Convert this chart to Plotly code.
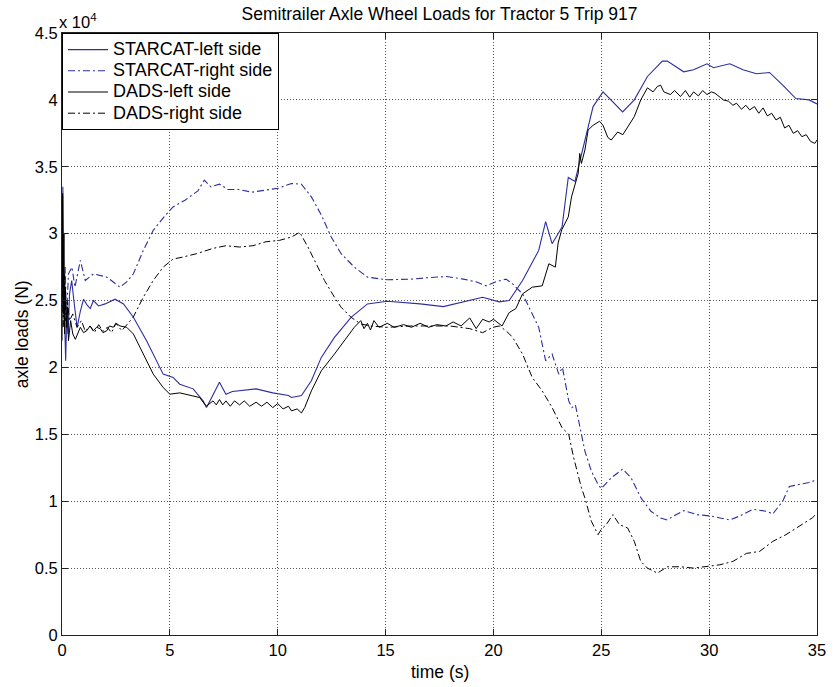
import plotly.graph_objects as go

# ---- data (loads in units of 1e4 N) ----
t_starcat_left = [0, 0.04, 0.08, 0.12, 0.17, 0.22, 0.28, 0.35, 0.45, 0.55, 0.7, 0.85, 1.0, 1.15, 1.31,
                  1.46, 1.69, 2.0, 2.46, 2.85, 3.31, 3.92, 4.69, 5.15, 5.46, 6.08, 6.54, 6.7, 7.0, 7.3,
                  7.6, 7.9, 9.0, 9.77, 10.5, 10.64, 11.1, 11.56, 12.02, 12.63, 13.4, 14.16, 15.08, 16.6,
                  17.68, 18.6, 19.5, 20.27, 20.73, 21.35, 22.1, 22.42, 22.72, 23.18, 23.47, 23.78, 24.24,
                  24.62, 25.08, 25.46, 25.99, 26.53, 27.14, 27.83, 28.06, 28.82, 29.28, 29.9, 30.2, 30.96,
                  31.57, 32.19, 32.8, 33.41, 34.02, 34.63, 35.0]
v_starcat_left = [2.45, 3.35, 2.6, 2.35, 2.05, 2.4, 2.25, 2.55, 2.65, 2.5, 2.3, 2.42, 2.51, 2.47, 2.44,
                  2.5, 2.46, 2.475, 2.51, 2.475, 2.375, 2.2, 1.95, 1.925, 1.875, 1.84, 1.75, 1.70, 1.80, 1.89,
                  1.80, 1.82, 1.84, 1.81, 1.79, 1.775, 1.79, 1.90, 2.075, 2.225, 2.375, 2.475, 2.495, 2.475,
                  2.455, 2.49, 2.525, 2.49, 2.5, 2.65, 2.875, 3.09, 2.925, 3.05, 3.42, 3.39, 3.70,
                  3.95, 4.06, 4.0, 3.91, 4.0, 4.175, 4.29, 4.29, 4.21, 4.225, 4.27, 4.24, 4.27,
                  4.225, 4.195, 4.205, 4.11, 4.01, 4.0, 3.97]

t_starcat_right = [0, 0.05, 0.1, 0.15, 0.2, 0.3, 0.46, 0.6, 0.85, 1.08, 1.46, 2.08, 2.69, 3.0, 3.31, 3.77,
                   4.23, 4.7, 5.15, 5.7, 6.3, 6.6, 6.9, 7.3, 7.7, 8.2, 8.8, 9.3, 9.8, 10.03, 10.64, 11.1,
                   11.56, 12.02, 12.48, 12.94, 13.55, 14.16, 15.08, 16.15, 16.9, 17.83, 18.6, 19.2, 19.66,
                   20.12, 20.58, 20.89, 21.35, 21.65, 22.1, 22.42, 22.57, 22.72, 23.03, 23.2, 23.49, 23.64,
                   23.8, 24.08, 24.24, 24.54, 24.85, 25.0, 25.46, 25.99, 26.38, 26.84, 27.3, 27.75, 28.06,
                   28.36, 28.82, 29.43, 30.05, 30.5, 30.96, 31.42, 32.03, 32.65, 32.95, 33.41, 33.72,
                   34.17, 34.63, 35.0]
v_starcat_right = [2.6, 2.9, 2.45, 2.75, 2.35, 2.7, 2.75, 2.6, 2.8, 2.65, 2.7, 2.675, 2.6, 2.64, 2.7, 2.875,
                   3.025, 3.12, 3.2, 3.25, 3.32, 3.4, 3.35, 3.37, 3.33, 3.33, 3.31, 3.32, 3.33, 3.34, 3.375, 3.37,
                   3.275, 3.14, 2.975, 2.85, 2.75, 2.675, 2.655, 2.66, 2.67, 2.68, 2.66, 2.64, 2.61,
                   2.64, 2.66, 2.625, 2.55, 2.45, 2.3, 2.05, 2.075, 2.1, 1.95, 2.0, 1.75, 1.70,
                   1.72, 1.5, 1.375, 1.225, 1.125, 1.095, 1.175, 1.24, 1.175, 1.025, 0.925, 0.875, 0.86,
                   0.89, 0.93, 0.90, 0.89, 0.875, 0.86, 0.89, 0.94, 0.925, 0.905, 1.0, 1.11,
                   1.125, 1.14, 1.16]

t_dads_left = [0, 0.03, 0.06, 0.09, 0.12, 0.16, 0.2, 0.25, 0.3, 0.4, 0.5, 0.62, 0.85, 1.0, 1.15, 1.3, 1.46,
               1.6, 1.77, 1.9, 2.08, 2.2, 2.38, 2.5, 2.69, 3.0, 3.31, 3.77, 4.23, 4.69, 5.0, 5.46, 5.92,
               6.38, 6.69, 7.0, 7.15, 7.3, 7.45, 7.6, 7.8, 8.0, 8.23, 8.45, 8.7, 9.0, 9.25, 9.5, 9.77,
               10.0, 10.25, 10.5, 10.64, 10.9, 11.1, 11.25, 11.56, 12.02, 12.63, 13.1, 13.55, 13.85, 14.0,
               14.16, 14.3, 14.46, 14.7, 15.08, 15.4, 15.84, 16.2, 16.6, 17.0, 17.37, 17.8, 18.13, 18.5,
               18.9, 19.2, 19.5, 19.8, 20.0, 20.27, 20.4, 20.73, 21.04, 21.35, 21.6, 21.8, 22.26, 22.57,
               22.87, 23.0, 23.17, 23.47, 23.62, 23.78, 23.93, 24.0, 24.08, 24.24, 24.39, 24.62, 24.92,
               25.08, 25.3, 25.46, 25.76, 26.0, 26.22, 26.53, 26.83, 27.14, 27.4, 27.6, 27.75, 27.9, 28.2,
               28.4, 28.67, 28.9, 29.1, 29.28, 29.5, 29.7, 29.9, 30.1, 30.27, 30.5, 30.66, 30.9, 31.1,
               31.27, 31.5, 31.7, 31.88, 32.1, 32.3, 32.5, 32.7, 32.9, 33.1, 33.3, 33.5, 33.7, 33.9, 34.1,
               34.3, 34.5, 34.7, 34.9, 35.0]
v_dads_left = [2.2, 3.3, 2.4, 3.0, 2.25, 2.6, 2.3, 2.45, 2.2, 2.35, 2.25, 2.21, 2.3, 2.26, 2.275, 2.31, 2.275,
               2.3, 2.29, 2.26, 2.275, 2.31, 2.3, 2.33, 2.31, 2.3, 2.25, 2.1, 1.95, 1.85, 1.80, 1.81, 1.79,
               1.775, 1.71, 1.75, 1.72, 1.76, 1.72, 1.75, 1.71, 1.75, 1.72, 1.75, 1.71, 1.74, 1.71, 1.74, 1.70,
               1.73, 1.69, 1.71, 1.675, 1.69, 1.66, 1.70, 1.825, 1.975, 2.1, 2.2, 2.3, 2.35, 2.29,
               2.33, 2.28, 2.35, 2.3, 2.33, 2.30, 2.32, 2.30, 2.33, 2.30, 2.32, 2.31, 2.34, 2.31,
               2.37, 2.29, 2.36, 2.34, 2.36, 2.325, 2.31, 2.41, 2.44, 2.55, 2.58, 2.60, 2.61, 2.775,
               2.75, 2.93, 3.03, 3.125, 3.275, 3.375, 3.45, 3.6, 3.525, 3.625, 3.775, 3.81, 3.84,
               3.81, 3.72, 3.70, 3.76, 3.74, 3.80, 3.875, 4.0, 4.09, 4.06, 4.10, 4.11, 4.06, 4.04,
               4.07, 4.025, 4.07, 4.02, 4.06, 4.03, 4.07, 4.04, 4.06, 4.05, 4.02, 4.0, 3.99, 3.96,
               3.975, 3.93, 3.96, 3.925, 3.95, 3.9, 3.94, 3.88, 3.9, 3.85, 3.87, 3.79, 3.81, 3.75, 3.77,
               3.725, 3.74, 3.69, 3.675, 3.70]

t_dads_right = [0, 0.04, 0.08, 0.12, 0.18, 0.25, 0.35, 0.5, 0.7, 0.9, 1.08, 1.3, 1.5, 1.7, 1.9, 2.1, 2.3,
                2.5, 2.77, 3.3, 3.77, 4.23, 4.69, 5.15, 5.6, 6.23, 7.0, 7.6, 8.23, 8.85, 9.46, 10.08, 10.64,
                11.02, 11.4, 11.7, 12.17, 12.63, 12.94, 13.4, 13.85, 14.3, 15.08, 16.15, 17.06, 17.98, 18.9,
                19.5, 19.97, 20.27, 20.58, 20.89, 21.35, 21.8, 22.26, 22.72, 23.18, 23.49, 23.72, 24.08,
                24.24, 24.54, 24.85, 25.0, 25.23, 25.54, 25.84, 26.22, 26.53, 26.83, 27.14, 27.6, 28.06,
                28.67, 29.28, 29.9, 30.5, 31.1, 31.73, 32.34, 32.95, 33.56, 34.17, 34.78, 35.0]
v_dads_right = [2.3, 3.0, 2.3, 2.7, 2.35, 2.5, 2.35, 2.4, 2.3, 2.35, 2.27, 2.31, 2.26, 2.32, 2.27, 2.3, 2.26,
                2.33, 2.275, 2.375, 2.525, 2.65, 2.75, 2.81, 2.825, 2.85, 2.89, 2.91, 2.9, 2.91, 2.94, 2.95, 2.975,
                3.01, 2.9, 2.8, 2.65, 2.525, 2.45, 2.375, 2.325, 2.31, 2.3, 2.31, 2.31, 2.31, 2.29,
                2.26, 2.3, 2.31, 2.275, 2.225, 2.1, 1.925, 1.825, 1.7, 1.55, 1.5, 1.325, 1.1,
                1.025, 0.85, 0.75, 0.79, 0.825, 0.9, 0.825, 0.80, 0.7, 0.55, 0.5, 0.4625, 0.51,
                0.51, 0.5, 0.51, 0.525, 0.55, 0.61, 0.625, 0.70, 0.75, 0.81, 0.875, 0.91]

series_names = ["STARCAT-left side", "STARCAT-right side", "DADS-left side", "DADS-right side"]
x_ticks = [0, 5, 10, 15, 20, 25, 30, 35]
y_ticks = [0, 0.5, 1, 1.5, 2, 2.5, 3, 3.5, 4, 4.5]
y_ticktext = ["0", "0.5", "1", "1.5", "2", "2.5", "3", "3.5", "4", "4.5"]

BLUE = "#2e2ea0"
DASHDOT = "7px,3px,2px,3px"
FONT = "Arial, Liberation Sans, Helvetica, sans-serif"
LEGEND_TEXT_PX = 18


def legend_label(name):
    return f'<span style="font-size:{LEGEND_TEXT_PX}px">{name}</span>'


fig = go.Figure()
fig.add_trace(go.Scatter(x=t_starcat_left, y=v_starcat_left, mode="lines", name=legend_label(series_names[0]),
                         line=dict(color=BLUE, width=1.1)))
fig.add_trace(go.Scatter(x=t_starcat_right, y=v_starcat_right, mode="lines", name=legend_label(series_names[1]),
                         line=dict(color=BLUE, width=1.1, dash=DASHDOT)))
fig.add_trace(go.Scatter(x=t_dads_left, y=v_dads_left, mode="lines", name=legend_label(series_names[2]),
                         line=dict(color="black", width=1)))
fig.add_trace(go.Scatter(x=t_dads_right, y=v_dads_right, mode="lines", name=legend_label(series_names[3]),
                         line=dict(color="black", width=1, dash=DASHDOT)))

axis_common = dict(showline=True, linecolor="#222", linewidth=1, mirror="ticks",
                   ticks="inside", ticklen=6, tickcolor="#222",
                   showgrid=True, gridcolor="#555", gridwidth=1, griddash="1px,2px",
                   zeroline=False, tickfont=dict(family=FONT, size=16.5, color="black"))

fig.update_xaxes(range=[0, 35], tickvals=x_ticks, **axis_common)
fig.update_yaxes(range=[0, 4.5], tickvals=y_ticks, ticktext=y_ticktext, **axis_common)

fig.update_layout(
    width=838, height=687,
    margin=dict(l=62, r=15, t=33, b=52),
    paper_bgcolor="white", plot_bgcolor="white",
    font=dict(family=FONT, size=16, color="black"),
    title=dict(text="Semitrailer Axle Wheel Loads for Tractor 5 Trip 917",
               x=0.5, xref="paper", xanchor="center",
               y=1 - 14 / 687, yref="container", yanchor="middle",
               font=dict(family=FONT, size=17.5, color="black")),
    showlegend=True,
    legend=dict(x=0, y=1, xanchor="left", yanchor="top",
                bgcolor="white", bordercolor="black", borderwidth=1,
                font=dict(family=FONT, size=14, color="black"),
                itemwidth=40, tracegroupgap=0),
    annotations=[
        dict(text="time (s)", xref="paper", yref="paper", x=0.5, y=-37 / 602,
             xanchor="center", yanchor="middle", showarrow=False,
             font=dict(family=FONT, size=17.5, color="black")),
        dict(text="axle loads (N)", xref="paper", yref="paper", x=-40 / 761, y=0.5,
             xanchor="center", yanchor="middle", textangle=-90, showarrow=False,
             font=dict(family=FONT, size=17.5, color="black")),
        dict(text="x 10<sup>4</sup>", xref="paper", yref="paper", x=-5 / 761, y=1 + 12 / 602,
             xanchor="left", yanchor="middle", showarrow=False,
             font=dict(family=FONT, size=16.5, color="black")),
    ],
)

fig.write_html("out.html")
